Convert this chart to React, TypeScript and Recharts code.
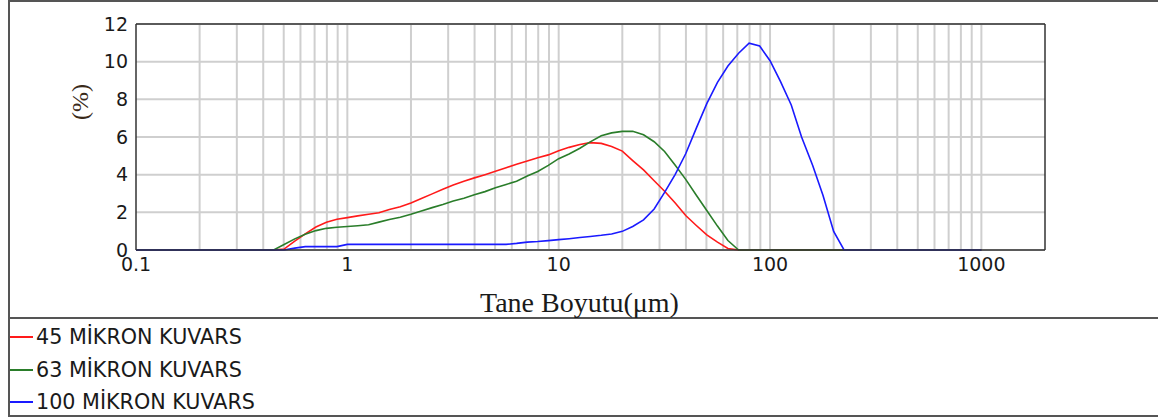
import { LineChart, Line, XAxis, YAxis, CartesianGrid, ReferenceLine } from "recharts"

// particle size classes (µm)
const sizes = [
  0.1, 0.2, 0.3, 0.356, 0.399, 0.448, 0.502, 0.564, 0.632, 0.71, 0.796, 0.893,
  1.0, 1.12, 1.26, 1.41, 1.58, 1.78, 2.0, 2.24, 2.52, 2.83, 3.17, 3.56, 3.99, 4.48, 5.02, 5.64, 6.32, 7.1, 7.96, 8.93,
  10, 11.2, 12.6, 14.1, 15.9, 17.8, 20, 22.4, 25.2, 28.3, 31.7, 35.6, 39.9, 44.8, 50.2, 56.4, 63.2, 71, 79.6, 89.3,
  100, 112, 126, 141, 159, 178, 200, 224, 252, 282, 500, 1000,
]

const kuvars45 = [
  0, 0, 0, 0, 0, 0, 0.05, 0.47, 0.86, 1.22, 1.47, 1.63,
  1.72, 1.81, 1.9, 1.98, 2.15, 2.3, 2.5, 2.74, 2.98, 3.22, 3.45, 3.65, 3.83, 4.0, 4.18, 4.37, 4.55, 4.72, 4.9, 5.05,
  5.27, 5.45, 5.6, 5.7, 5.66, 5.5, 5.25, 4.75, 4.25, 3.68, 3.12, 2.5, 1.83, 1.3, 0.8, 0.42, 0.08, 0, 0, 0,
  0, 0, 0, 0, 0, 0, 0, 0, 0, 0, 0, 0,
]

const kuvars63 = [
  0, 0, 0, 0, 0, 0, 0.29, 0.59, 0.84, 1.03, 1.15, 1.21,
  1.25, 1.29, 1.34, 1.48, 1.62, 1.74, 1.9, 2.07, 2.25, 2.42, 2.6, 2.75, 2.93, 3.1, 3.3, 3.48, 3.65, 3.93, 4.17, 4.49,
  4.85, 5.1, 5.4, 5.74, 6.07, 6.22, 6.3, 6.3, 6.12, 5.75, 5.23, 4.5, 3.75, 2.91, 2.1, 1.27, 0.5, 0, 0, 0,
  0, 0, 0, 0, 0, 0, 0, 0, 0, 0, 0, 0,
]

const kuvars100 = [
  0, 0, 0, 0, 0, 0, 0, 0.1, 0.18, 0.18, 0.18, 0.18,
  0.3, 0.3, 0.3, 0.3, 0.3, 0.3, 0.3, 0.3, 0.3, 0.3, 0.3, 0.3, 0.3, 0.3, 0.3, 0.3, 0.35, 0.42, 0.45, 0.5,
  0.55, 0.6, 0.66, 0.72, 0.78, 0.85, 0.99, 1.25, 1.6, 2.18, 3.06, 4.02, 5.11, 6.47, 7.77, 8.9, 9.77, 10.45, 10.98, 10.83,
  10.05, 8.95, 7.7, 6.0, 4.5, 2.91, 0.99, 0, 0, 0, 0, 0,
]

const xTicks = [0.1, 1, 10, 100, 1000]
const yTicks = [0, 2, 4, 6, 8, 10, 12]
// log grid lines (2..9 of each decade plus the decades)
const xGrid = [
  0.2, 0.3, 0.4, 0.5, 0.6, 0.7, 0.8, 0.9,
  1, 2, 3, 4, 5, 6, 7, 8, 9,
  10, 20, 30, 40, 50, 60, 70, 80, 90,
  100, 200, 300, 400, 500, 600, 700, 800, 900, 1000,
]

const series = [
  { key: "k45", name: "45 MİKRON KUVARS", color: "#ff1a1a", values: kuvars45 },
  { key: "k63", name: "63 MİKRON KUVARS", color: "#2a7d2a", values: kuvars63 },
  { key: "k100", name: "100 MİKRON KUVARS", color: "#1a1aff", values: kuvars100 },
]

const data = sizes.map((size, i) => {
  const row: Record<string, number> = { size }
  series.forEach(s => (row[s.key] = s.values[i]))
  return row
})

const tickStyle = { fill: "#1a1a1a", fontSize: 19, fontFamily: "DejaVu Sans" }
const frameColor = "#555"
const plotBorder = "#333"

const YLabel = ({ viewBox }: any) => {
  const x = viewBox.x + 80
  const y = viewBox.y + 78
  return <text x={x} y={y} transform={`rotate(-90 ${x} ${y})`} textAnchor="middle" dominantBaseline="central"
    fill="#3a2a1a" fontSize={24} fontFamily="Liberation Serif">(%)</text>
}

const XLabel = ({ viewBox }: any) => {
  return <text x={viewBox.x + viewBox.width / 2 - 11} y={viewBox.y + 62} textAnchor="middle"
    fill="#1a1a1a" fontSize={28} fontFamily="Liberation Serif">Tane Boyutu(μm)</text>
}

export default function App() {
  return <div style={{ position: "absolute", left: 0, top: 0, width: 1158, height: 417, background: "#fff", overflow: "hidden" }}>
    <div style={{ position: "absolute", left: 8, top: 0, width: 1200, height: 413, borderTop: `2px solid ${frameColor}`, borderLeft: `2px solid ${frameColor}`, borderBottom: `2px solid ${frameColor}` }} />
    <div style={{ position: "absolute", left: 8, top: 317, width: 1200, borderTop: `2px solid ${frameColor}` }} />
    <div style={{ position: "absolute", left: 0, top: 0 }}>
      <LineChart width={1158} height={319} data={data} margin={{ top: 24, right: 113, left: 0, bottom: 39 }}>
        <CartesianGrid vertical={false} stroke="#cfcfcf" strokeWidth={2} />
        {xGrid.map(v => <ReferenceLine key={v} x={v} stroke="#cfcfcf" strokeWidth={2} />)}
        <ReferenceLine y={12} stroke={plotBorder} strokeWidth={1.5} />
        <ReferenceLine x={2000} stroke={plotBorder} strokeWidth={1.5} />
        <XAxis dataKey="size" type="number" scale="log" domain={[0.1, 2000]} ticks={xTicks} interval={0}
          allowDataOverflow height={30} tickLine={false} axisLine={{ stroke: plotBorder, strokeWidth: 1.5 }}
          tick={tickStyle} tickFormatter={v => String(v)} label={{ content: XLabel }} />
        <YAxis type="number" domain={[0, 12]} ticks={yTicks} interval={0} width={136} tickLine={false}
          axisLine={{ stroke: plotBorder, strokeWidth: 1.5 }} tick={tickStyle} label={{ content: YLabel }} />
        {series.map(s => <Line key={s.key} dataKey={s.key} name={s.name} stroke={s.color} strokeWidth={1.6}
          dot={false} isAnimationActive={false} type="linear" />)}
      </LineChart>
    </div>
    {series.map((s, i) => <div key={s.key} style={{ position: "absolute", left: 10, top: 321 + i * 32.5, height: 32.5, display: "flex", alignItems: "center" }}>
      <div style={{ width: 23, height: 0, borderTop: `2px solid ${s.color}` }} />
      <span style={{ marginLeft: 3, fontSize: 20.7, fontFamily: "DejaVu Sans", color: "#1a1a1a", whiteSpace: "nowrap" }}>{s.name}</span>
    </div>)}
  </div>
}
